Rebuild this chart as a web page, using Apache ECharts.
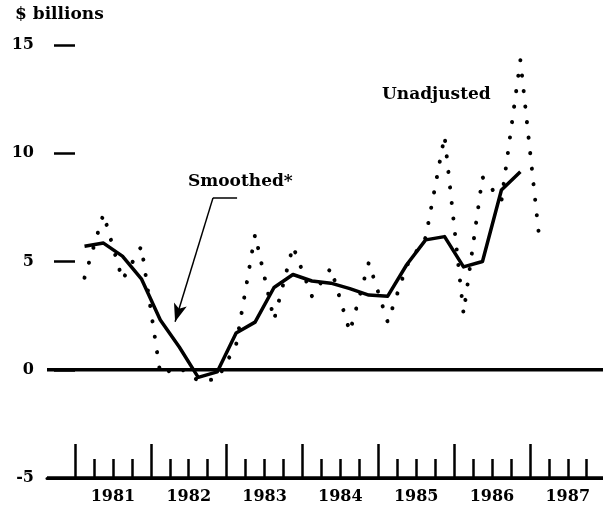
<!DOCTYPE html>
<html lang="en">

<head>
    <meta charset="UTF-8">
    <title>Chart</title>
    <style>
        * {
            margin: 0;
            padding: 0;
        }

        html,
        body {
            height: 100%;
            background: #fff;
        }

        #box {
            width: 603px;
            height: 510px;
        }
    </style>
    <script src="https://cdn.jsdelivr.net/npm/echarts@6/dist/echarts.min.js"></script>
</head>

<body>
    <div id="box"></div>

    <script>
        // quarterly data, 1981Q1 .. 1987Q1 ($ billions)
        var years = ['1981', '1982', '1983', '1984', '1985', '1986', '1987'];
        var unadjusted = [4.25, 7.2, 4.15, 5.7, -0.2, 0.1, -0.5, -0.45, 1.15, 6.25, 2.3, 5.7,
            3.4, 4.7, 1.75, 4.95, 2.2, 4.8, 6.1, 10.8, 2.6, 8.9, 7.8, 14.3, 6.05];
        var smoothed = [5.7, 5.85, 5.25, 4.2, 2.3, 1.05, -0.35, -0.1, 1.7, 2.2, 3.8, 4.4,
            4.1, 4.0, 3.75, 3.45, 3.4, 4.85, 6.0, 6.15, 4.75, 5.0, 8.3, 9.15];
        var rules = [0, -5];

        var font = 'DejaVu Serif';
        var xMin = -1.48, xMax = 27.86;

        // x is counted in quarters from the start of 1981, points sit mid-quarter
        function toPoints(arr) {
            return arr.map(function (v, i) { return [i + 0.5, v]; });
        }
        var quarterTicks = [];
        for (var q = 0; q < 28; q++) quarterTicks.push(q);
        var yearTicks = years.map(function (y, i) { return i * 4; });
        var yearMid = years.map(function (y, i) { return i * 4 + 2; });

        var myChart = echarts.init(document.getElementById('box'));

        myChart.setOption({
            animation: false,
            grid: { left: 47, right: 0, top: 45, bottom: 32 },
            xAxis: [
                {
                    type: 'value',
                    min: xMin,
                    max: xMax,
                    axisLine: { show: true, onZero: false, lineStyle: { color: '#000', width: 3 } },
                    axisTick: {
                        show: true, inside: true, length: 19,
                        customValues: quarterTicks,
                        lineStyle: { color: '#000', width: 2.5 }
                    },
                    axisLabel: {
                        customValues: yearMid,
                        formatter: function (v) { return years[Math.round((v - 2) / 4)]; },
                        margin: 11,
                        color: '#000',
                        fontFamily: font,
                        fontWeight: 'bold',
                        fontSize: 16
                    },
                    splitLine: { show: false }
                },
                {
                    type: 'value',
                    position: 'bottom',
                    min: xMin,
                    max: xMax,
                    axisLine: { show: false, onZero: false },
                    axisTick: {
                        show: true, inside: true, length: 34,
                        customValues: yearTicks,
                        lineStyle: { color: '#000', width: 2.5 }
                    },
                    axisLabel: { show: false },
                    splitLine: { show: false }
                }
            ],
            yAxis: {
                type: 'value',
                min: -5,
                max: 15,
                interval: 5,
                offset: -7,
                axisLine: { show: false, onZero: false },
                axisTick: {
                    show: true, inside: true, length: 21,
                    lineStyle: { color: '#000', width: 2.5 }
                },
                axisLabel: {
                    margin: 20,
                    color: '#000',
                    fontFamily: font,
                    fontWeight: 'bold',
                    fontSize: 16
                },
                splitLine: { show: false }
            },
            graphic: [
                { type: 'text', left: 15, top: 6, style: { text: '$ billions', font: 'bold 17px "DejaVu Serif"', fill: '#000' } },
                { type: 'text', left: 188, top: 173, style: { text: 'Smoothed*', font: 'bold 17px "DejaVu Serif"', fill: '#000' } },
                { type: 'text', left: 382, top: 86, style: { text: 'Unadjusted', font: 'bold 17px "DejaVu Serif"', fill: '#000' } }
            ],
            series: [
                {
                    name: 'Unadjusted',
                    type: 'line',
                    data: toPoints(unadjusted),
                    showSymbol: false,
                    lineStyle: { color: '#000', width: 4, type: [0.1, 15.5], cap: 'round' }
                },
                {
                    name: 'Smoothed',
                    type: 'line',
                    data: toPoints(smoothed),
                    showSymbol: false,
                    lineStyle: { color: '#000', width: 3.5, join: 'round' }
                },
                {
                    // leader arrow for the "Smoothed*" note
                    type: 'line',
                    data: [],
                    markLine: {
                        silent: true,
                        label: { show: false },
                        symbolSize: [10, 18],
                        lineStyle: { color: '#000', width: 1.5, type: 'solid' },
                        data: [
                            [{ coord: [8.55, 7.94], symbol: 'none' }, { coord: [7.28, 7.94], symbol: 'none' }],
                            [{ coord: [7.28, 7.94], symbol: 'none' }, { coord: [5.28, 2.22], symbol: 'arrow' }]
                        ]
                    }
                }
            ]
        });

        // zero line and base line, placed through the chart's own scales
        var ruleGraphics = rules.map(function (v, i) {
            var p1 = myChart.convertToPixel({ gridIndex: 0 }, [xMin, v]);
            var p2 = myChart.convertToPixel({ gridIndex: 0 }, [xMax, v]);
            return {
                type: 'line',
                id: 'rule' + i,
                z: 10,
                silent: true,
                shape: { x1: p1[0], y1: p1[1], x2: p2[0], y2: p2[1] },
                style: { stroke: '#000', lineWidth: 3.5 }
            };
        });
        myChart.setOption({ graphic: ruleGraphics });

        window.onresize = function () {
            myChart.resize();
        }
    </script>
</body>

</html>
